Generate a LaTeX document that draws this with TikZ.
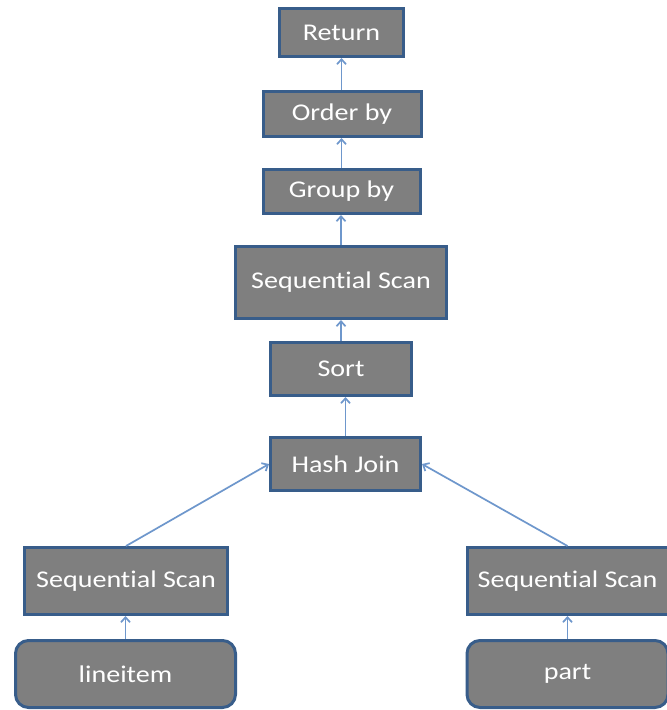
\documentclass[tikz,border=0pt]{standalone}
\usepackage{fontspec}
\setmainfont[RawFeature=-liga]{Carlito}
\usetikzlibrary{arrows.meta}
\definecolor{boxfill}{HTML}{7F7F7F}
\definecolor{boxline}{HTML}{385D8A}
\definecolor{arrowc}{HTML}{6E97CC}
\newcommand{\wtxt}[1]{\scalebox{1.17}[1]{#1}}
\tikzset{
  opbox/.style={draw=boxline, line width=3pt, fill=boxfill, text=white,
    font=\fontsize{24}{28}\selectfont, inner sep=0pt},
  tblbox/.style={opbox, rounded corners=13pt},
  flow/.style={draw=arrowc, line width=1.7pt, -{Straight Barb[length=5pt,width=9pt]}}
}
\begin{document}
\begin{tikzpicture}[x=1pt,y=-1pt]
\fill[white] (0,0) rectangle (667,710);
\useasboundingbox (0,0) rectangle (667,710);
\node[opbox, minimum width=124pt, minimum height=48pt] (ret) at (341.5,32.5) {\wtxt{Return}};
\node[opbox, minimum width=158pt, minimum height=45pt] (ord) at (342,114) {\wtxt{Order by}};
\node[opbox, minimum width=157pt, minimum height=44pt] (grp) at (341.5,191.5) {\wtxt{Group by}};
\node[opbox, minimum width=211pt, minimum height=72pt] (seq) at (341,282.5) {\wtxt{Sequential Scan}};
\node[opbox, minimum width=141pt, minimum height=53pt] (srt) at (341,369) {\wtxt{Sort}};
\node[opbox, minimum width=150pt, minimum height=53pt] (hj) at (345.5,464) {\wtxt{Hash Join}};
\node[opbox, minimum width=203pt, minimum height=67pt] (ls) at (126,581) {\wtxt{Sequential Scan}};
\node[opbox, minimum width=201pt, minimum height=67pt] (rs) at (567.5,581) {\wtxt{Sequential Scan}};
\node[tblbox, minimum width=220pt, minimum height=67pt] (li) at (125.5,674) {\wtxt{lineitem}};
\node[tblbox, minimum width=201pt, minimum height=67pt] (pt) at (567.5,674) {\wtxt{part}};
\draw[flow] (ord.north -| ret.south) -- (ret.south);
\draw[flow] (grp.north) -- (grp.north |- ord.south);
\draw[flow] (seq.north) -- (seq.north |- grp.south);
\draw[flow] (srt.north) -- (srt.north |- seq.south);
\draw[flow] (hj.north) -- (hj.north |- srt.south);
\draw[flow] (ls.north) -- (hj.west);
\draw[flow] (rs.north) -- (hj.east);
\draw[flow] (li.north) -- (li.north |- ls.south);
\draw[flow] (pt.north) -- (pt.north |- rs.south);
\end{tikzpicture}
\end{document}
